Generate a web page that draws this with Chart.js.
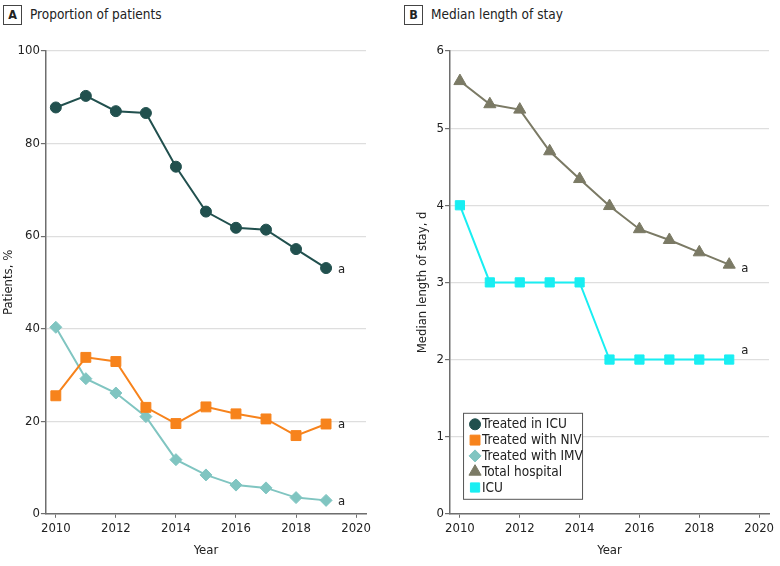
<!DOCTYPE html>
<html>
<head>
<meta charset="utf-8">
<script src="https://cdn.jsdelivr.net/npm/chart.js@4.4.1/dist/chart.umd.min.js"></script>
<style>
  body { margin: 0; background: #fff; width: 780px; height: 566px; overflow: hidden;
         font-family: "Liberation Sans Narrow", "DejaVu Sans Condensed", sans-serif; color: #222; }
  .panel { position: absolute; top: 0; width: 390px; height: 566px; }
  .hdr { position: absolute; top: 5px; left: 3px; font-size: 13.5px; line-height: 18px; white-space: nowrap; }
  .hdr span.box { display: inline-block; border: 1px solid #444; width: 17px; height: 18px;
                  text-align: center; font-weight: bold; font-size: 12.5px; margin-right: 8px; }
  canvas { position: absolute; top: 30px; left: 0; }
</style>
</head>
<body>
<div class="panel" style="left:0">
  <div class="hdr"><span class="box">A</span>Proportion of patients</div>
  <canvas id="chartA" width="390" height="536"></canvas>
</div>
<div class="panel" style="left:390px">
  <div class="hdr" style="left:14px"><span class="box">B</span>Median length of stay</div>
  <canvas id="chartB" width="390" height="536"></canvas>
</div>
<script>
// dati
const years = [2010, 2011, 2012, 2013, 2014, 2015, 2016, 2017, 2018, 2019];
const yearTicks = [2010, 2012, 2014, 2016, 2018, 2020];

const treatedIcu = [87.8, 90.3, 87.0, 86.6, 75.0, 65.3, 61.8, 61.4, 57.2, 53.1];
const treatedNiv = [25.5, 33.8, 32.9, 23.0, 19.5, 23.1, 21.6, 20.5, 16.9, 19.4];
const treatedImv = [40.3, 29.2, 26.1, 21.0, 11.7, 8.4, 6.2, 5.6, 3.5, 2.9];
const pctTicks = [0, 20, 40, 60, 80, 100];

const totalHospital = [5.61, 5.31, 5.24, 4.70, 4.34, 3.99, 3.69, 3.55, 3.39, 3.23];
const icuStay = [4, 3, 3, 3, 3, 2, 2, 2, 2, 2];
const dayTicks = [0, 1, 2, 3, 4, 5, 6];

const FONT = "'Liberation Sans Narrow', 'DejaVu Sans Condensed', sans-serif";
const AXIS = "#6e6e6e";

// serie: nome, colore, simbolo
const legendItems = [
  { label: "Treated in ICU", color: "#21504e", style: "circle", r: 5.5 },
  { label: "Treated with NIV", color: "#f7831c", style: "rect", r: 7 },
  { label: "Treated with IMV", color: "#80c5c1", style: "rectRot", r: 6 },
  { label: "Total hospital", color: "#7b7a65", style: "triangle", r: 7 },
  { label: "ICU", color: "#19eef2", style: "rect", r: 6.5 },
];

function toPoints(vals) {
  return vals.map((v, i) => ({ x: years[i], y: v }));
}

function makeDataset(item, vals, note) {
  return {
    label: item.label,
    data: toPoints(vals),
    borderColor: item.color,
    backgroundColor: item.color,
    pointStyle: item.style,
    pointRadius: item.r,
    pointHoverRadius: item.r,
    borderWidth: 2,
    pointBorderWidth: 1,
    note: note,
  };
}

// lettera "a" accanto all'ultimo punto
const notePlugin = {
  id: "notes",
  afterDatasetsDraw(chart) {
    const ctx = chart.ctx;
    ctx.save();
    ctx.font = "13px " + FONT;
    ctx.fillStyle = "#222";
    ctx.textBaseline = "middle";
    chart.data.datasets.forEach((ds, i) => {
      if (!ds.note) return;
      const pts = chart.getDatasetMeta(i).data;
      const p = pts[pts.length - 1];
      ctx.fillText("a", p.x + 12, p.y + ds.note);
    });
    ctx.restore();
  },
};

// legenda dentro l'area del grafico B
const legendPlugin = {
  id: "boxLegend",
  afterDraw(chart) {
    if (chart.canvas.id !== "chartB") return;
    const ctx = chart.ctx;
    const area = chart.chartArea;
    const x0 = area.left + 13, y0 = area.bottom - 101, w = 119, h = 86;
    ctx.save();
    ctx.fillStyle = "#fff";
    ctx.fillRect(x0, y0, w, h);
    ctx.strokeStyle = "#555";
    ctx.lineWidth = 1;
    ctx.strokeRect(x0 + 0.5, y0 + 0.5, w, h);
    ctx.font = "13.5px " + FONT;
    ctx.textBaseline = "middle";
    legendItems.forEach((it, i) => {
      const cy = y0 + 11.5 + i * 15.8;
      ctx.fillStyle = it.color;
      ctx.strokeStyle = it.color;
      Chart.helpers.drawPoint(ctx, { pointStyle: it.style, radius: it.r, borderWidth: 1 }, x0 + 12, cy);
      ctx.fillStyle = "#222";
      ctx.fillText(it.label, x0 + 19, cy + 0.5);
    });
    ctx.restore();
  },
};

function makeOptions(yTicks, yTitle, pad, titlePad) {
  return {
    responsive: false,
    animation: false,
    layout: { padding: pad },
    plugins: { legend: { display: false }, tooltip: { enabled: false } },
    scales: {
      x: {
        type: "linear",
        min: 2009.67,
        max: 2020.33,
        afterBuildTicks: (ax) => { ax.ticks = yearTicks.map((v) => ({ value: v })); },
        grid: { drawOnChartArea: false, drawTicks: true, tickLength: 4, color: AXIS },
        border: { color: AXIS, width: 1.5 },
        ticks: { color: "#222", font: { family: FONT, size: 13 }, padding: 3, maxRotation: 0,
                 callback: (v) => String(v) },
        title: { display: true, text: "Year", color: "#222", font: { family: FONT, size: 13 }, padding: { top: 3 } },
      },
      y: {
        min: yTicks[0],
        max: yTicks[yTicks.length - 1],
        afterBuildTicks: (ax) => { ax.ticks = yTicks.map((v) => ({ value: v })); },
        grid: { color: "#dedede", tickColor: AXIS, tickLength: 5, lineWidth: 1.2 },
        border: { color: AXIS, width: 1.5 },
        ticks: { color: "#222", font: { family: FONT, size: 13 }, padding: 1 },
        title: { display: true, text: yTitle, color: "#222", font: { family: FONT, size: 13 }, padding: titlePad },
      },
    },
  };
}

new Chart(document.getElementById("chartA"), {
  type: "line",
  data: {
    datasets: [
      makeDataset(legendItems[0], treatedIcu, 2),
      makeDataset(legendItems[1], treatedNiv, 1),
      makeDataset(legendItems[2], treatedImv, 1),
    ],
  },
  options: makeOptions(pctTicks, "Patients, %", { top: 21, right: 24, left: 1, bottom: 4 }, { top: 0, bottom: 0 }),
  plugins: [notePlugin],
});

new Chart(document.getElementById("chartB"), {
  type: "line",
  data: {
    datasets: [
      makeDataset(legendItems[3], totalHospital, 4),
      makeDataset(legendItems[4], icuStay, -9),
    ],
  },
  options: makeOptions(dayTicks, "Median length of stay, d", { top: 21, right: 11, left: 25, bottom: 4 }, { top: 0, bottom: 5 }),
  plugins: [notePlugin, legendPlugin],
});
</script>
</body>
</html>
